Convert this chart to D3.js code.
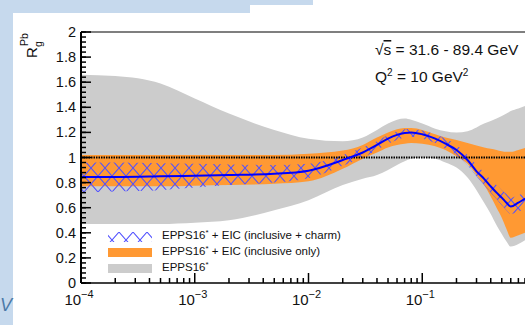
<!DOCTYPE html>
<html>
<head>
<meta charset="utf-8">
<script src="https://cdn.jsdelivr.net/npm/d3@7"></script>
<style>
body { margin: 0; background: #fff; }
svg { display: block; font-family: "Liberation Sans", Arial, sans-serif; }
</style>
</head>
<body>
<svg width="525" height="325"></svg>
<script>
// sample points in x (Bjorken-x)
const xVals = [1e-4, 2e-4, 5e-4, 1e-3, 2e-3, 5e-3, 1e-2, 2e-2, 3e-2, 4e-2, 5e-2, 6e-2, 7e-2, 8e-2,
    0.1, 0.13, 0.16, 0.2, 0.25, 0.3, 0.35, 0.4, 0.45, 0.5, 0.55, 0.6, 0.7, 0.8, 0.9];

// EPPS16* (gray)
const grayHi = [1.66, 1.65, 1.59, 1.47, 1.35, 1.22, 1.15, 1.13, 1.16, 1.22, 1.27, 1.30, 1.31, 1.30,
    1.27, 1.23, 1.21, 1.20, 1.21, 1.24, 1.27, 1.29, 1.31, 1.33, 1.35, 1.37, 1.39, 1.41, 1.42];
const grayLo = [0.47, 0.47, 0.47, 0.48, 0.50, 0.58, 0.66, 0.78, 0.83, 0.86, 0.90, 0.94, 0.97, 0.99,
    1.00, 0.99, 0.96, 0.92, 0.84, 0.74, 0.64, 0.55, 0.46, 0.39, 0.33, 0.29, 0.31, 0.34, 0.36];

// EPPS16* + EIC (inclusive only) (orange)
const orangeHi = [1.02, 1.02, 1.02, 1.02, 1.02, 1.02, 1.03, 1.055, 1.10, 1.16, 1.20, 1.225, 1.235, 1.235,
    1.22, 1.185, 1.16, 1.14, 1.115, 1.095, 1.08, 1.07, 1.06, 1.05, 1.045, 1.045, 1.06, 1.075, 1.085];
const orangeLo = [0.77, 0.77, 0.77, 0.775, 0.78, 0.79, 0.81, 0.91, 0.99, 1.04, 1.08, 1.10, 1.11, 1.115,
    1.11, 1.09, 1.06, 1.01, 0.95, 0.86, 0.78, 0.69, 0.60, 0.52, 0.43, 0.36, 0.38, 0.40, 0.41];

// EPPS16* + EIC (inclusive + charm) (hatched)
const hatchHi = [0.96, 0.96, 0.955, 0.95, 0.945, 0.94, 0.95, 1.02, 1.08, 1.13, 1.18, 1.21, 1.225, 1.23,
    1.215, 1.185, 1.15, 1.10, 1.02, 0.94, 0.88, 0.82, 0.78, 0.74, 0.71, 0.68, 0.70, 0.72, 0.73];
const hatchLo = [0.72, 0.73, 0.74, 0.76, 0.78, 0.80, 0.835, 0.935, 1.00, 1.06, 1.11, 1.14, 1.16, 1.165,
    1.15, 1.115, 1.07, 1.02, 0.94, 0.85, 0.78, 0.72, 0.67, 0.62, 0.58, 0.55, 0.57, 0.59, 0.60];

// central value (blue line)
const central = [0.845, 0.845, 0.85, 0.855, 0.86, 0.87, 0.895, 0.98, 1.04, 1.10, 1.15, 1.18, 1.195, 1.20,
    1.185, 1.15, 1.11, 1.06, 0.98, 0.89, 0.83, 0.77, 0.72, 0.68, 0.64, 0.61, 0.64, 0.67, 0.69];

const xMajor = [1e-4, 1e-3, 1e-2, 1e-1, 1];
const xLabelTicks = [1e-4, 1e-3, 1e-2, 1e-1];
const xExp = ["\u22124", "\u22123", "\u22122", "\u22121"];
const yMajor = [0, 0.2, 0.4, 0.6, 0.8, 1, 1.2, 1.4, 1.6, 1.8, 2];
const yLabels = ["0", "0.2", "0.4", "0.6", "0.8", "1", "1.2", "1.4", "1.6", "1.8", "2"];

const legendLabels = ["EPPS16", "EPPS16", "EPPS16"];
const legendRest = [" + EIC (inclusive + charm)", " + EIC (inclusive only)", ""];

var svg = d3.select("svg");

// slide background bits
svg.append("rect").attr("x", 0).attr("y", 0).attr("width", 13).attr("height", 325).attr("fill", "#c6d9ed");
svg.append("rect").attr("x", 0).attr("y", 0).attr("width", 250).attr("height", 13).attr("fill", "#c6d9ed");
svg.append("rect").attr("x", 250).attr("y", 0).attr("width", 63).attr("height", 5).attr("fill", "#c6d9ed");
svg.append("text").attr("x", 0).attr("y", 311)
    .attr("font-size", 18).attr("font-style", "italic").attr("fill", "#4b79a8").text("V");

var x = d3.scaleLog().domain([1e-4, 1]).range([81, 536]);
var y = d3.scaleLinear().domain([0, 2]).range([283, 32]);

// hatch pattern
var defs = svg.append("defs");
var pat = defs.append("pattern").attr("id", "xhatch")
    .attr("patternUnits", "userSpaceOnUse").attr("width", 14).attr("height", 16);
pat.append("path").attr("d", "M0,0L14,16M14,0L0,16")
    .attr("stroke", "#5050ff").attr("stroke-width", 1.1).attr("fill", "none");

function band(hi, lo) {
    return d3.area()
        .x(function(d, i) { return x(xVals[i]); })
        .y0(function(d, i) { return y(lo[i]); })
        .y1(function(d, i) { return y(hi[i]); })
        .curve(d3.curveMonotoneX)(xVals);
}

var plot = svg.append("g");
plot.append("path").attr("d", band(grayHi, grayLo)).attr("fill", "#cccccc");
plot.append("path").attr("d", band(orangeHi, orangeLo)).attr("fill", "#ff9933");
plot.append("path").attr("d", band(hatchHi, hatchLo)).attr("fill", "url(#xhatch)");

plot.append("line").attr("x1", x(1e-4)).attr("x2", x(1)).attr("y1", y(1)).attr("y2", y(1))
    .attr("stroke", "#000").attr("stroke-width", 2).attr("stroke-dasharray", "1.5,1");

plot.append("path")
    .attr("d", d3.line()
        .x(function(d, i) { return x(xVals[i]); })
        .y(function(d, i) { return y(central[i]); })
        .curve(d3.curveMonotoneX)(xVals))
    .attr("fill", "none").attr("stroke", "#0000ff").attr("stroke-width", 2);

// frame
svg.append("line").attr("x1", x(1e-4)).attr("x2", x(1)).attr("y1", y(2)).attr("y2", y(2))
    .attr("stroke", "#555").attr("stroke-width", 1.5);
svg.append("line").attr("x1", x(1e-4)).attr("x2", x(1)).attr("y1", y(0)).attr("y2", y(0))
    .attr("stroke", "#000").attr("stroke-width", 1.5);
svg.append("line").attr("x1", x(1e-4)).attr("x2", x(1e-4)).attr("y1", y(0)).attr("y2", y(2))
    .attr("stroke", "#000").attr("stroke-width", 2);

// y ticks (inward)
var yMinor = d3.range(0, 2.001, 0.04);
svg.append("g").selectAll("line").data(yMinor).enter().append("line")
    .attr("x1", x(1e-4)).attr("x2", x(1e-4) + 5)
    .attr("y1", function(d) { return y(d); }).attr("y2", function(d) { return y(d); })
    .attr("stroke", "#000").attr("stroke-width", 1.5);
svg.append("g").selectAll("line").data(yMajor).enter().append("line")
    .attr("x1", x(1e-4)).attr("x2", x(1e-4) + 10)
    .attr("y1", function(d) { return y(d); }).attr("y2", function(d) { return y(d); })
    .attr("stroke", "#000").attr("stroke-width", 1.5);
svg.append("g").selectAll("text").data(yMajor).enter().append("text")
    .attr("x", 76).attr("y", function(d) { return y(d) + 5; })
    .attr("text-anchor", "end").attr("font-size", 14.5).attr("fill", "#111")
    .text(function(d, i) { return yLabels[i]; });

// x ticks (inward)
var xMinor = [];
[1e-4, 1e-3, 1e-2, 1e-1].forEach(function(p) {
    for (var k = 2; k <= 9; k++) xMinor.push(k * p);
});
svg.append("g").selectAll("line").data(xMinor).enter().append("line")
    .attr("x1", function(d) { return x(d); }).attr("x2", function(d) { return x(d); })
    .attr("y1", y(0)).attr("y2", y(0) - 5)
    .attr("stroke", "#000").attr("stroke-width", 1.5);
svg.append("g").selectAll("line").data(xMajor).enter().append("line")
    .attr("x1", function(d) { return x(d); }).attr("x2", function(d) { return x(d); })
    .attr("y1", y(0)).attr("y2", y(0) - 10)
    .attr("stroke", "#000").attr("stroke-width", 1.5);
var xl = svg.append("g").selectAll("text").data(xLabelTicks).enter().append("text")
    .attr("x", function(d) { return x(d) - 2; }).attr("y", 305)
    .attr("text-anchor", "middle").attr("font-size", 15).attr("fill", "#111");
xl.append("tspan").text("10");
xl.append("tspan").attr("dy", -7).attr("font-size", 11).text(function(d, i) { return xExp[i]; });

// y title
var yt = svg.append("g").attr("transform", "translate(37,58) rotate(-90)");
yt.append("text").attr("x", 0).attr("y", 0).attr("font-size", 15).attr("fill", "#111").text("R");
yt.append("text").attr("x", 11).attr("y", 5).attr("font-size", 10.5).attr("fill", "#111").text("g");
yt.append("text").attr("x", 12).attr("y", -9).attr("font-size", 10.5).attr("fill", "#111").text("Pb");

// annotation
var a1 = svg.append("text").attr("x", 375).attr("y", 55).attr("font-size", 15.5).attr("fill", "#111");
a1.append("tspan").text("\u221A");
a1.append("tspan").attr("text-decoration", "overline").text("s");
a1.append("tspan").text(" = 31.6 - 89.4 GeV");
var a2 = svg.append("text").attr("x", 375).attr("y", 82).attr("font-size", 15.5).attr("fill", "#111");
a2.append("tspan").text("Q");
a2.append("tspan").attr("dy", -6).attr("font-size", 10).text("2");
a2.append("tspan").attr("dy", 6).text(" = 10 GeV");
a2.append("tspan").attr("dy", -6).attr("font-size", 10).text("2");

// legend
var legY = [237, 252.5, 268.5];
var lg = svg.append("g");
lg.append("rect").attr("x", 108).attr("y", legY[0] - 5).attr("width", 44).attr("height", 10)
    .attr("fill", "url(#xhatch)");
lg.append("rect").attr("x", 108).attr("y", legY[1] - 4.5).attr("width", 44).attr("height", 9)
    .attr("fill", "#ff9933");
lg.append("rect").attr("x", 108).attr("y", legY[2] - 4.5).attr("width", 44).attr("height", 9)
    .attr("fill", "#cccccc");
legY.forEach(function(ly, i) {
    var t = lg.append("text").attr("x", 162).attr("y", ly + 2)
        .attr("font-size", 11.5).attr("fill", "#111");
    t.append("tspan").text(legendLabels[i]);
    t.append("tspan").attr("dy", -4).attr("font-size", 8).text("*");
    t.append("tspan").attr("dy", 4).text(legendRest[i]);
});
</script>
</body>
</html>
